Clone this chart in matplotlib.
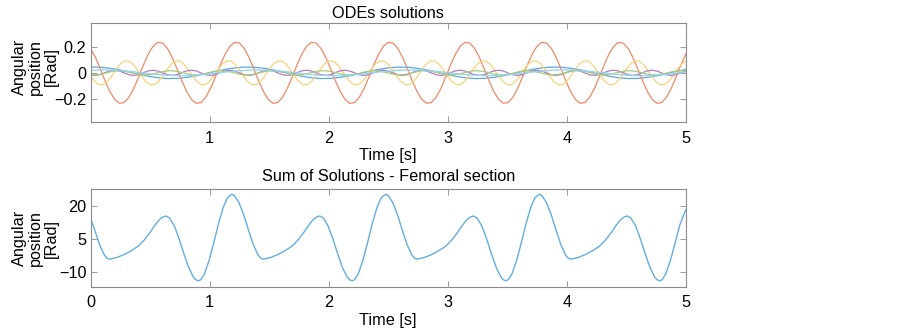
import numpy as np
import matplotlib
matplotlib.use('Agg')
import matplotlib.pyplot as plt

# ODE solutions (values in rad)
t_fast = np.linspace(0, 5, 125)
orange = [
    0.187, 0.118, 0.031, -0.061, -0.143, -0.204, -0.234, -0.228, -0.187, -0.118, -0.031, 0.061, 0.143, 0.204, 0.234, 0.228,
    0.187, 0.118, 0.031, -0.061, -0.143, -0.204, -0.234, -0.228, -0.187, -0.118, -0.031, 0.061, 0.143, 0.204, 0.234, 0.228,
    0.187, 0.118, 0.031, -0.061, -0.143, -0.204, -0.234, -0.228, -0.187, -0.118, -0.031, 0.061, 0.143, 0.204, 0.234, 0.228,
    0.187, 0.118, 0.031, -0.061, -0.143, -0.204, -0.234, -0.228, -0.187, -0.118, -0.031, 0.061, 0.143, 0.204, 0.234, 0.228,
    0.187, 0.118, 0.031, -0.061, -0.143, -0.204, -0.234, -0.228, -0.187, -0.118, -0.031, 0.061, 0.143, 0.204, 0.234, 0.228,
    0.187, 0.118, 0.031, -0.061, -0.143, -0.204, -0.234, -0.228, -0.187, -0.118, -0.031, 0.061, 0.143, 0.204, 0.234, 0.228,
    0.187, 0.118, 0.031, -0.061, -0.143, -0.204, -0.234, -0.228, -0.187, -0.118, -0.031, 0.061, 0.143, 0.204, 0.234, 0.228,
    0.187, 0.118, 0.031, -0.061, -0.143, -0.204, -0.234, -0.228, -0.187, -0.118, -0.031, 0.061, 0.143,
]
purple = [
    -0.015, -0.020, -0.014, 0.001, 0.015, 0.020, 0.014, -0.001, -0.015, -0.020, -0.014, 0.001, 0.015, 0.020, 0.014, -0.001,
    -0.015, -0.020, -0.014, 0.001, 0.015, 0.020, 0.014, -0.001, -0.015, -0.020, -0.014, 0.001, 0.015, 0.020, 0.014, -0.001,
    -0.015, -0.020, -0.014, 0.001, 0.015, 0.020, 0.014, -0.001, -0.015, -0.020, -0.014, 0.001, 0.015, 0.020, 0.014, -0.001,
    -0.015, -0.020, -0.014, 0.001, 0.015, 0.020, 0.014, -0.001, -0.015, -0.020, -0.014, 0.001, 0.015, 0.020, 0.014, -0.001,
    -0.015, -0.020, -0.014, 0.001, 0.015, 0.020, 0.014, -0.001, -0.015, -0.020, -0.014, 0.001, 0.015, 0.020, 0.014, -0.001,
    -0.015, -0.020, -0.014, 0.001, 0.015, 0.020, 0.014, -0.001, -0.015, -0.020, -0.014, 0.001, 0.015, 0.020, 0.014, -0.001,
    -0.015, -0.020, -0.014, 0.001, 0.015, 0.020, 0.014, -0.001, -0.015, -0.020, -0.014, 0.001, 0.015, 0.020, 0.014, -0.001,
    -0.015, -0.020, -0.014, 0.001, 0.015, 0.020, 0.014, -0.001, -0.015, -0.020, -0.014, 0.001, 0.015,
]

t_mid = np.linspace(0, 5, 141)
yellow = [
    -0.027, -0.068, -0.091, -0.090, -0.065, -0.022, 0.027, 0.068, 0.091, 0.090, 0.065, 0.022,
    -0.027, -0.068, -0.091, -0.090, -0.065, -0.022, 0.027, 0.068, 0.091, 0.090, 0.065, 0.022,
    -0.027, -0.068, -0.091, -0.090, -0.065, -0.022, 0.027, 0.068, 0.091, 0.090, 0.065, 0.022,
    -0.027, -0.068, -0.091, -0.090, -0.065, -0.022, 0.027, 0.068, 0.091, 0.090, 0.065, 0.022,
    -0.027, -0.068, -0.091, -0.090, -0.065, -0.022, 0.027, 0.068, 0.091, 0.090, 0.065, 0.022,
    -0.027, -0.068, -0.091, -0.090, -0.065, -0.022, 0.027, 0.068, 0.091, 0.090, 0.065, 0.022,
    -0.027, -0.068, -0.091, -0.090, -0.065, -0.022, 0.027, 0.068, 0.091, 0.090, 0.065, 0.022,
    -0.027, -0.068, -0.091, -0.090, -0.065, -0.022, 0.027, 0.068, 0.091, 0.090, 0.065, 0.022,
    -0.027, -0.068, -0.091, -0.090, -0.065, -0.022, 0.027, 0.068, 0.091, 0.090, 0.065, 0.022,
    -0.027, -0.068, -0.091, -0.090, -0.065, -0.022, 0.027, 0.068, 0.091, 0.090, 0.065, 0.022,
    -0.027, -0.068, -0.091, -0.090, -0.065, -0.022, 0.027, 0.068, 0.091, 0.090, 0.065, 0.022,
    -0.027, -0.068, -0.091, -0.090, -0.065, -0.022, 0.027, 0.068, 0.091,
]
green = [
    -0.015, -0.016, -0.012, -0.006, 0.002, 0.010, 0.015, 0.016, 0.012, 0.006, -0.002, -0.010,
    -0.015, -0.016, -0.012, -0.006, 0.002, 0.010, 0.015, 0.016, 0.012, 0.006, -0.002, -0.010,
    -0.015, -0.016, -0.012, -0.006, 0.002, 0.010, 0.015, 0.016, 0.012, 0.006, -0.002, -0.010,
    -0.015, -0.016, -0.012, -0.006, 0.002, 0.010, 0.015, 0.016, 0.012, 0.006, -0.002, -0.010,
    -0.015, -0.016, -0.012, -0.006, 0.002, 0.010, 0.015, 0.016, 0.012, 0.006, -0.002, -0.010,
    -0.015, -0.016, -0.012, -0.006, 0.002, 0.010, 0.015, 0.016, 0.012, 0.006, -0.002, -0.010,
    -0.015, -0.016, -0.012, -0.006, 0.002, 0.010, 0.015, 0.016, 0.012, 0.006, -0.002, -0.010,
    -0.015, -0.016, -0.012, -0.006, 0.002, 0.010, 0.015, 0.016, 0.012, 0.006, -0.002, -0.010,
    -0.015, -0.016, -0.012, -0.006, 0.002, 0.010, 0.015, 0.016, 0.012, 0.006, -0.002, -0.010,
    -0.015, -0.016, -0.012, -0.006, 0.002, 0.010, 0.015, 0.016, 0.012, 0.006, -0.002, -0.010,
    -0.015, -0.016, -0.012, -0.006, 0.002, 0.010, 0.015, 0.016, 0.012, 0.006, -0.002, -0.010,
    -0.015, -0.016, -0.012, -0.006, 0.002, 0.010, 0.015, 0.016, 0.012,
]

t_slow = np.linspace(0, 5, 63)
blue = [
    0.044, 0.043, 0.035, 0.023, 0.006, -0.011, -0.026, -0.038, -0.044, -0.043, -0.035, -0.023, -0.006, 0.011, 0.026, 0.038,
    0.044, 0.043, 0.035, 0.023, 0.006, -0.011, -0.026, -0.038, -0.044, -0.043, -0.035, -0.023, -0.006, 0.011, 0.026, 0.038,
    0.044, 0.043, 0.035, 0.023, 0.006, -0.011, -0.026, -0.038, -0.044, -0.043, -0.035, -0.023, -0.006, 0.011, 0.026, 0.038,
    0.044, 0.043, 0.035, 0.023, 0.006, -0.011, -0.026, -0.038, -0.044, -0.043, -0.035, -0.023, -0.006, 0.011, 0.026,
]
cyan = [
    0.019, 0.022, 0.021, 0.018, 0.012, 0.003, -0.006, -0.013, -0.019, -0.022, -0.021, -0.018, -0.012, -0.003, 0.006, 0.013,
    0.019, 0.022, 0.021, 0.018, 0.012, 0.003, -0.006, -0.013, -0.019, -0.022, -0.021, -0.018, -0.012, -0.003, 0.006, 0.013,
    0.019, 0.022, 0.021, 0.018, 0.012, 0.003, -0.006, -0.013, -0.019, -0.022, -0.021, -0.018, -0.012, -0.003, 0.006, 0.013,
    0.019, 0.022, 0.021, 0.018, 0.012, 0.003, -0.006, -0.013, -0.019, -0.022, -0.021, -0.018, -0.012, -0.003, 0.006,
]

# sum of solutions, femoral section
t_sum = [
    0.0, 0.033, 0.073, 0.113, 0.138, 0.158, 0.218, 0.278, 0.338, 0.398, 0.448, 0.498, 0.538, 0.578, 0.608, 0.633,
    0.663, 0.703, 0.743, 0.783, 0.823, 0.863, 0.883,
    0.905, 0.925, 0.955, 0.995, 1.035, 1.075, 1.115, 1.15, 1.185, 1.205, 1.245, 1.285, 1.325, 1.365, 1.405, 1.43, 1.45,
    1.51, 1.57, 1.63, 1.69, 1.74, 1.79, 1.83, 1.87, 1.9, 1.925, 1.955, 1.995, 2.035, 2.075, 2.115, 2.155, 2.175,
    2.197, 2.217, 2.247, 2.287, 2.327, 2.367, 2.407, 2.442, 2.477, 2.497, 2.537, 2.577, 2.617, 2.657, 2.697, 2.722, 2.742,
    2.802, 2.862, 2.922, 2.982, 3.032, 3.082, 3.122, 3.162, 3.192, 3.217, 3.247, 3.287, 3.327, 3.367, 3.407, 3.447, 3.467,
    3.489, 3.509, 3.539, 3.579, 3.619, 3.659, 3.699, 3.734, 3.769, 3.789, 3.829, 3.869, 3.909, 3.949, 3.989, 4.014, 4.034,
    4.094, 4.154, 4.214, 4.274, 4.324, 4.374, 4.414, 4.454, 4.484, 4.509, 4.539, 4.579, 4.619, 4.659, 4.699, 4.739, 4.759,
    4.781, 4.801, 4.831, 4.871, 4.911, 4.951, 5.0,
]
v_sum = [
    14.3, 9.35, 2.8, -1.96, -3.6, -4.0, -3.3, -2.0, -0.3, 1.8, 4.5, 8.0, 11.2, 13.9, 15.1, 15.5,
    14.6, 11.0, 5.2, -1.5, -7.7, -12.1, -13.3,
    -13.8, -13.3, -10.8, -4.65, 3.56, 12.2, 19.57, 23.8, 25.3, 24.9, 21.7, 16.2, 9.35, 2.8, -1.96, -3.6, -4.0,
    -3.3, -2.0, -0.3, 1.8, 4.5, 8.0, 11.2, 13.9, 15.1, 15.5, 14.6, 11.0, 5.2, -1.5, -7.7, -12.1, -13.3,
    -13.8, -13.3, -10.8, -4.65, 3.56, 12.2, 19.57, 23.8, 25.3, 24.9, 21.7, 16.2, 9.35, 2.8, -1.96, -3.6, -4.0,
    -3.3, -2.0, -0.3, 1.8, 4.5, 8.0, 11.2, 13.9, 15.1, 15.5, 14.6, 11.0, 5.2, -1.5, -7.7, -12.1, -13.3,
    -13.8, -13.3, -10.8, -4.65, 3.56, 12.2, 19.57, 23.8, 25.3, 24.9, 21.7, 16.2, 9.35, 2.8, -1.96, -3.6, -4.0,
    -3.3, -2.0, -0.3, 1.8, 4.5, 8.0, 11.2, 13.9, 15.1, 15.5, 14.6, 11.0, 5.2, -1.5, -7.7, -12.1, -13.3,
    -13.8, -13.3, -10.8, -4.65, 3.56, 11.6, 18.3,
]

top_yticks = [-0.2, 0, 0.2]
top_xticks = [1, 2, 3, 4, 5]
bot_yticks = [-10, 5, 20]
bot_xticks = [0, 1, 2, 3, 4, 5]

fs = 11.7
plt.rcParams['font.family'] = ['Liberation Sans', 'DejaVu Sans']
plt.rcParams['font.size'] = fs
plt.rcParams['axes.unicode_minus'] = True

fig = plt.figure(figsize=(9.03, 3.33), dpi=100)
ax1 = fig.add_axes([0.1004, 0.6327, 0.659, 0.2973])
ax2 = fig.add_axes([0.1004, 0.1381, 0.659, 0.2943])

lw = 0.9
ax1.plot(t_slow, blue, color='#5fa8dc', lw=lw)
ax1.plot(t_fast, orange, color='#ee8a66', lw=lw)
ax1.plot(t_mid, yellow, color='#f8d27a', lw=lw)
ax1.plot(t_fast, purple, color='#b47cc2', lw=lw)
ax1.plot(t_mid, green, color='#a8cd78', lw=lw)
ax1.plot(t_slow, cyan, color='#92d3f0', lw=lw)

ax2.plot(t_sum, v_sum, color='#62aee0', lw=1.0)

for ax in (ax1, ax2):
    ax.set_xlim(0, 5)
    ax.tick_params(direction='in', top=True, right=True, length=4,
                   width=0.6, color='#8a8a8a', labelsize=fs)
    ax.tick_params(axis='x', pad=6)
    ax.tick_params(axis='y', pad=3)
    for s in ax.spines.values():
        s.set_color('#8a8a8a')
        s.set_linewidth(0.8)
    ax.set_xlabel('Time [s]', labelpad=2)
    ax.set_ylabel('Angular\nposition\n[Rad]', linespacing=1.08)

ax1.yaxis.set_label_coords(-0.053, 0.56)
ax2.yaxis.set_label_coords(-0.053, 0.5)

ax1.set_ylim(-0.38, 0.38)
ax1.set_yticks(top_yticks)
ax1.set_yticklabels(['\u22120.2', '0', '0.2'])
ax1.set_xticks(top_xticks)
ax1.set_title('ODEs solutions', fontsize=fs, pad=4)

ax2.set_ylim(-16.6, 27.7)
ax2.set_yticks(bot_yticks)
ax2.set_xticks(bot_xticks)
ax2.set_title('Sum of Solutions - Femoral section', fontsize=fs, pad=6)

fig.savefig('out.png', dpi=100)
